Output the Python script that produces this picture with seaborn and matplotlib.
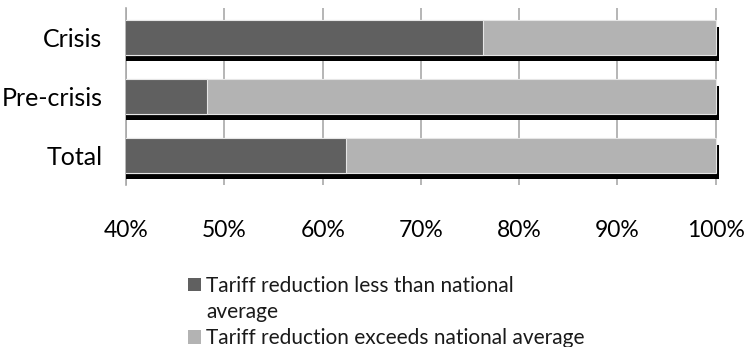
import matplotlib
matplotlib.use("Agg")
import matplotlib.pyplot as plt
import matplotlib.patheffects as pe
from matplotlib.patches import Patch
import seaborn as sns
import pandas as pd

categories = ["Crisis", "Pre-crisis", "Total"]
less_than_avg = [76.3, 48.2, 62.4]       # share (%), dark segment
exceeds_avg = [23.7, 51.8, 37.6]         # remaining share (%), light segment
x_ticks = [40, 50, 60, 70, 80, 90, 100]
x_tick_labels = ["40%", "50%", "60%", "70%", "80%", "90%", "100%"]
legend_labels = ["Tariff reduction less than national",
                 "Tariff reduction exceeds national average"]
legend_wrap = "average"

dark = "#606060"
light = "#b3b3b3"

sns.set_theme(style="white")
plt.rcParams["font.family"] = ["Lato", "DejaVu Sans"]

df = pd.DataFrame({
    "category": categories,
    "less": less_than_avg,
    "total": [a + b for a, b in zip(less_than_avg, exceeds_avg)],
})

fig = plt.figure(figsize=(7.51, 3.47), dpi=100)
ax = fig.add_axes([0.168, 0.467, 0.789, 0.510])

sns.barplot(data=df, y="category", x="total", orient="h", color=light,
            width=0.58, ax=ax, saturation=1, edgecolor="#e6e6e6", linewidth=0.8)
n_light = len(ax.patches)
for p in ax.patches[:n_light]:
    p.set_path_effects([pe.SimplePatchShadow(offset=(2.3, -4.5), shadow_rgbFace="black", alpha=1.0),
                        pe.Normal()])
sns.barplot(data=df, y="category", x="less", orient="h", color=dark,
            width=0.58, ax=ax, saturation=1, edgecolor="#e6e6e6", linewidth=0.8)

for p in ax.patches:
    p.set_zorder(3)

ax.set_xlim(40, 100.3)
ax.set_ylim(2.5, -0.5)
ax.set_xticks(x_ticks)
ax.set_xticklabels(x_tick_labels, fontsize=16.5)
ax.tick_params(axis="x", length=0, pad=25)
ax.tick_params(axis="y", length=0, pad=17, labelsize=18)
ax.set_xlabel("")
ax.set_ylabel("")
ax.grid(axis="x", color="#a9a9a9", linewidth=1.2, zorder=0)
ax.set_axisbelow(True)
for s in ["top", "right", "bottom"]:
    ax.spines[s].set_visible(False)
ax.spines["left"].set_color("#a9a9a9")
ax.spines["left"].set_linewidth(1.2)
for lab in ax.get_xticklabels() + ax.get_yticklabels():
    lab.set_color("black")

handles = [Patch(facecolor=dark, edgecolor="none"), Patch(facecolor=light, edgecolor="none")]
leg = fig.legend(handles, legend_labels, loc="upper left", bbox_to_anchor=(188 / 751, 1 - 276 / 347),
                 frameon=False, fontsize=15, handlelength=0.62, handleheight=0.62,
                 handletextpad=0.25, labelspacing=1.55, borderaxespad=0, borderpad=0)
for t in leg.get_texts():
    t.set_color("#1a1a1a")

fig.canvas.draw()
bb = leg.get_texts()[0].get_window_extent()
fig.text(bb.x0 / (751), 1 - 318 / 347, legend_wrap, fontsize=15, color="#1a1a1a",
         ha="left", va="baseline")

fig.savefig("out.png", dpi=100)
